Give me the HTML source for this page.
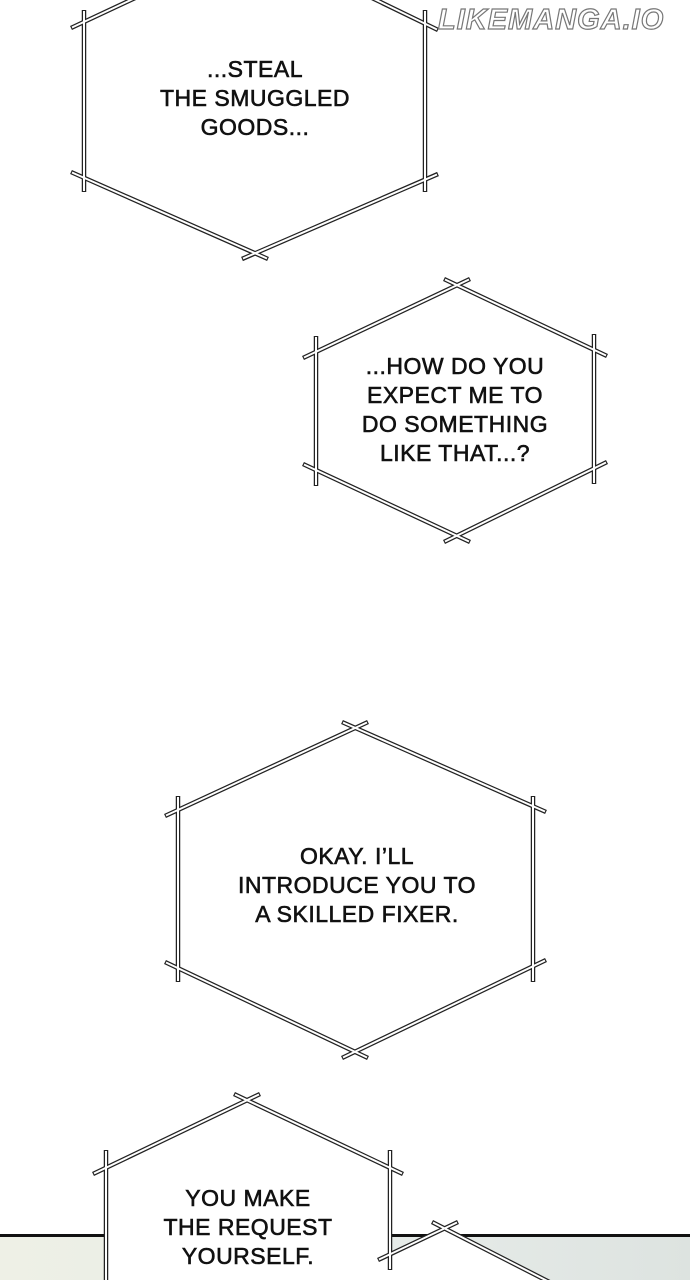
<!DOCTYPE html>
<html><head><meta charset="utf-8"><style>
html,body{margin:0;padding:0;background:#fff}
body{width:690px;height:1280px;position:relative;overflow:hidden;font-family:"Liberation Sans",sans-serif}
.t{position:absolute;text-align:center;font-size:23px;line-height:29px;color:#111;letter-spacing:0.5px;transform:translateX(-50%);white-space:nowrap;-webkit-text-stroke:0.6px #111}
.wm{position:absolute;left:438px;top:4px;font-size:29px;font-weight:bold;font-style:italic;color:#fff;-webkit-text-stroke:1.2px #777;letter-spacing:1px}
</style></head><body>
<svg width="690" height="1280" style="position:absolute;left:0;top:0">
<defs><linearGradient id="g" x1="0" y1="0" x2="1" y2="0"><stop offset="0" stop-color="#eef0e6"/><stop offset="0.6" stop-color="#e6ebe8"/><stop offset="1" stop-color="#dde3e0"/></linearGradient></defs>
<rect x="0" y="1236" width="690" height="44" fill="url(#g)"/>
<rect x="0" y="1234" width="690" height="3" fill="#111"/>
<rect x="106" y="1160" width="284" height="120" fill="#fff"/>
<polygon points="380,1262 445,1230 570,1290 380,1290" fill="#fff"/>
<g stroke-linecap="butt">
<g stroke="#222" stroke-width="4.5">
<line x1="84" y1="10" x2="84" y2="192"/><line x1="425" y1="10" x2="425" y2="192"/>
<line x1="71" y1="172" x2="268" y2="259"/><line x1="242" y1="259" x2="438" y2="174"/>
<line x1="71" y1="28" x2="150" y2="-9"/><line x1="368" y1="-4" x2="438" y2="30"/>
<line x1="316" y1="336" x2="316" y2="486"/><line x1="594" y1="334" x2="594" y2="484"/>
<line x1="303" y1="358" x2="470" y2="279"/><line x1="444" y1="279" x2="607" y2="356"/>
<line x1="303" y1="464" x2="470" y2="542"/><line x1="444" y1="542" x2="607" y2="462"/>
<line x1="178" y1="796" x2="178" y2="982"/><line x1="533" y1="796" x2="533" y2="982"/>
<line x1="165" y1="816" x2="368" y2="722"/><line x1="342" y1="722" x2="546" y2="812"/>
<line x1="165" y1="962" x2="368" y2="1058"/><line x1="342" y1="1058" x2="546" y2="960"/>
<line x1="106" y1="1150" x2="106" y2="1282"/><line x1="390" y1="1150" x2="390" y2="1270"/>
<line x1="93" y1="1174" x2="260" y2="1094"/><line x1="234" y1="1094" x2="403" y2="1174"/>
<line x1="378" y1="1260" x2="458" y2="1222"/><line x1="432" y1="1222" x2="565" y2="1290"/>
</g>
<g stroke="#fff" stroke-width="2">
<line x1="84" y1="11" x2="84" y2="191"/><line x1="425" y1="11" x2="425" y2="191"/>
<line x1="72" y1="172.5" x2="267" y2="258.5"/><line x1="243" y1="258.5" x2="437" y2="174.5"/>
<line x1="72" y1="27.5" x2="150" y2="-9"/><line x1="368" y1="-4" x2="437" y2="29.5"/>
<line x1="316" y1="337" x2="316" y2="485"/><line x1="594" y1="335" x2="594" y2="483"/>
<line x1="304" y1="357.5" x2="469" y2="279.5"/><line x1="445" y1="279.5" x2="606" y2="355.5"/>
<line x1="304" y1="464.5" x2="469" y2="541.5"/><line x1="445" y1="541.5" x2="606" y2="462.5"/>
<line x1="178" y1="797" x2="178" y2="981"/><line x1="533" y1="797" x2="533" y2="981"/>
<line x1="166" y1="815.5" x2="367" y2="722.5"/><line x1="343" y1="722.5" x2="545" y2="811.5"/>
<line x1="166" y1="962.5" x2="367" y2="1057.5"/><line x1="343" y1="1057.5" x2="545" y2="960.5"/>
<line x1="106" y1="1151" x2="106" y2="1282"/><line x1="390" y1="1151" x2="390" y2="1269"/>
<line x1="94" y1="1173.5" x2="259" y2="1094.5"/><line x1="235" y1="1094.5" x2="402" y2="1173.5"/>
<line x1="379" y1="1259.5" x2="457" y2="1222.5"/><line x1="433" y1="1222.5" x2="565" y2="1290"/>
</g></g>
</svg>
<div class="wm">LIKEMANGA.IO</div>
<div class="t" style="left:255px;top:55px">...STEAL<br>THE SMUGGLED<br>GOODS...</div>
<div class="t" style="left:455px;top:352px">...HOW DO YOU<br>EXPECT ME TO<br>DO SOMETHING<br>LIKE THAT...?</div>
<div class="t" style="left:357px;top:842px">OKAY. I’LL<br>INTRODUCE YOU TO<br>A SKILLED FIXER.</div>
<div class="t" style="left:248px;top:1184px">YOU MAKE<br>THE REQUEST<br>YOURSELF.</div>
</body></html>
